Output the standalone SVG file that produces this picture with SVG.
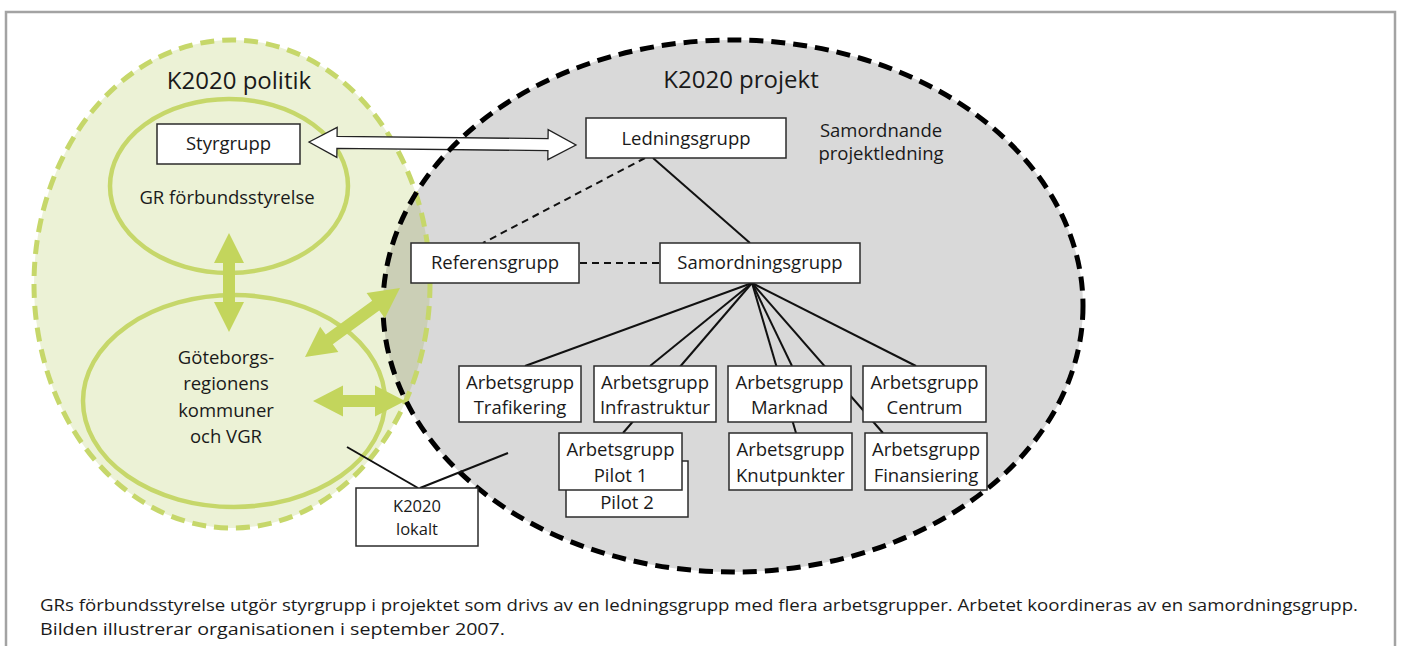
<svg xmlns="http://www.w3.org/2000/svg" width="1402" height="646" viewBox="0 0 1402 646">
<style>
text{font-family:"Open Sans","Liberation Sans",sans-serif;fill:#1a1a1a;text-anchor:middle;font-size:18.5px}
.box{fill:#fff;stroke:#2b2b2b;stroke-width:1.5}
.ln{stroke:#111;stroke-width:2;fill:none}
.dl{stroke:#111;stroke-width:2;fill:none;stroke-dasharray:7 5}
.garrow{fill:#c3d55c;stroke:none}
.cap{text-anchor:start;font-size:16px}
.sm{font-size:16.5px}
</style>
<defs>
<clipPath id="grayClip"><ellipse cx="733" cy="306" rx="350" ry="266"/></clipPath>
</defs>
<rect x="0" y="0" width="1402" height="646" fill="#fff"/>
<path d="M6,646 V12 H1395 V646" fill="none" stroke="#a3a3a3" stroke-width="2.5"/>

<g id="k2020-politik">
<ellipse cx="232" cy="284" rx="198" ry="244" fill="#ecf2d6"/>
</g>
<g id="k2020-projekt">
<ellipse cx="733" cy="306" rx="350" ry="266" fill="#d9d9d9"/>
<ellipse cx="232" cy="284" rx="198" ry="244" fill="#cbcfb6" clip-path="url(#grayClip)"/>
</g>
<g id="politik-outline">
<ellipse cx="232" cy="284" rx="198" ry="244" fill="none" stroke="#c6d76a" stroke-width="5" stroke-dasharray="14 8"/>
<text x="239" y="89" style="font-size:24px">K2020 politik</text>
</g>
<g id="gr-forbundsstyrelse">
<ellipse cx="229" cy="186" rx="119" ry="87" fill="none" stroke="#c6d76a" stroke-width="4.5"/>
<text x="227" y="204">GR förbundsstyrelse</text>
</g>
<g id="goteborgsregionen">
<ellipse cx="234" cy="401" rx="151" ry="106" fill="none" stroke="#c6d76a" stroke-width="4.5"/>
<text x="226" y="364">Göteborgs-</text>
<text x="226" y="390">regionens</text>
<text x="226" y="417">kommuner</text>
<text x="226" y="443">och VGR</text>
</g>

<g id="connectors">
<line class="ln" x1="653" y1="158" x2="750" y2="243"/>
<line class="dl" x1="645" y1="158" x2="483" y2="243"/>
<line class="dl" x1="580" y1="263" x2="660" y2="263"/>
<line class="ln" x1="752" y1="283" x2="525" y2="366"/>
<line class="ln" x1="752" y1="283" x2="650" y2="366"/>
<line class="ln" x1="752" y1="283" x2="623" y2="433"/>
<line class="ln" x1="752" y1="283" x2="792" y2="366"/>
<line class="ln" x1="752" y1="283" x2="796" y2="433"/>
<line class="ln" x1="752" y1="283" x2="883" y2="433"/>
<line class="ln" x1="752" y1="283" x2="916" y2="366"/>
<polygon transform="translate(309,142) rotate(0.64)" points="0,0 28,-15 28,-6 239,-6 239,-15 267,0 239,15 239,6 28,6 28,15" fill="#fff" stroke="#222" stroke-width="1.3" stroke-linejoin="miter"/>
</g>

<g id="projekt-outline">
<ellipse cx="733" cy="306" rx="350" ry="266" fill="none" stroke="#000" stroke-width="5" stroke-dasharray="14 8"/>
<text x="741" y="88" style="font-size:24px">K2020 projekt</text>
<text x="881" y="137">Samordnande</text>
<text x="881" y="160">projektledning</text>
</g>

<g id="green-arrows">
<polygon class="garrow" points="229,233 244,263 235,263 235,302 244,302 229,332 214,302 223,302 223,263 214,263"/>
<polygon class="garrow" points="313,401 343,385.5 343,395 375,395 375,385.5 405,401 375,416.5 375,407 343,407 343,416.5"/>
<polygon class="garrow" transform="translate(305,357) rotate(-36)" points="0,0 30,-15.5 30,-6 87.4,-6 87.4,-15.5 117.4,0 87.4,15.5 87.4,6 30,6 30,15.5"/>
</g>

<g id="lokalt-lines">
<line class="ln" x1="347" y1="447" x2="418" y2="488"/>
<line class="ln" x1="420" y1="488" x2="508" y2="453"/>
</g>

<g id="styrgrupp"><rect class="box" x="157" y="124" width="143" height="40"/><text x="228.5" y="150">Styrgrupp</text></g>
<g id="ledningsgrupp"><rect class="box" x="586" y="118" width="200" height="40"/><text x="686" y="144.5">Ledningsgrupp</text></g>
<g id="referensgrupp"><rect class="box" x="411" y="243" width="168" height="40"/><text x="495" y="268.5">Referensgrupp</text></g>
<g id="samordningsgrupp"><rect class="box" x="660" y="243" width="200" height="40"/><text x="760" y="268.5">Samordningsgrupp</text></g>
<g id="ag-trafikering"><rect class="box" x="459" y="366" width="122" height="56"/><text x="520" y="389">Arbetsgrupp</text><text x="520" y="414">Trafikering</text></g>
<g id="ag-infrastruktur"><rect class="box" x="594" y="366" width="122" height="56"/><text x="655" y="389">Arbetsgrupp</text><text x="655" y="414">Infrastruktur</text></g>
<g id="ag-marknad"><rect class="box" x="728" y="366" width="123" height="56"/><text x="789.5" y="389">Arbetsgrupp</text><text x="789.5" y="414">Marknad</text></g>
<g id="ag-centrum"><rect class="box" x="863" y="366" width="123" height="56"/><text x="924.5" y="389">Arbetsgrupp</text><text x="924.5" y="414">Centrum</text></g>
<g id="ag-pilot2"><rect class="box" x="566" y="461" width="122" height="56"/><text x="627" y="509">Pilot 2</text></g>
<g id="ag-pilot1"><rect class="box" x="559" y="433" width="123" height="57"/><text x="620.5" y="456">Arbetsgrupp</text><text x="620.5" y="482">Pilot 1</text></g>
<g id="ag-knutpunkter"><rect class="box" x="729" y="433" width="123" height="57"/><text x="790.5" y="456">Arbetsgrupp</text><text x="790.5" y="482">Knutpunkter</text></g>
<g id="ag-finansiering"><rect class="box" x="865" y="433" width="122" height="57"/><text x="926" y="456">Arbetsgrupp</text><text x="926" y="482">Finansiering</text></g>
<g id="k2020-lokalt"><rect class="box" x="356" y="488" width="122" height="58"/><text class="sm" x="417" y="512">K2020</text><text class="sm" x="417" y="535">lokalt</text></g>

<g id="caption">
<text class="cap" x="40" y="611" textLength="1318" lengthAdjust="spacingAndGlyphs">GRs förbundsstyrelse utgör styrgrupp i projektet som drivs av en ledningsgrupp med flera arbetsgrupper. Arbetet koordineras av en samordningsgrupp.</text>
<text class="cap" x="40" y="635" textLength="465" lengthAdjust="spacingAndGlyphs">Bilden illustrerar organisationen i september 2007.</text>
</g>
</svg>
